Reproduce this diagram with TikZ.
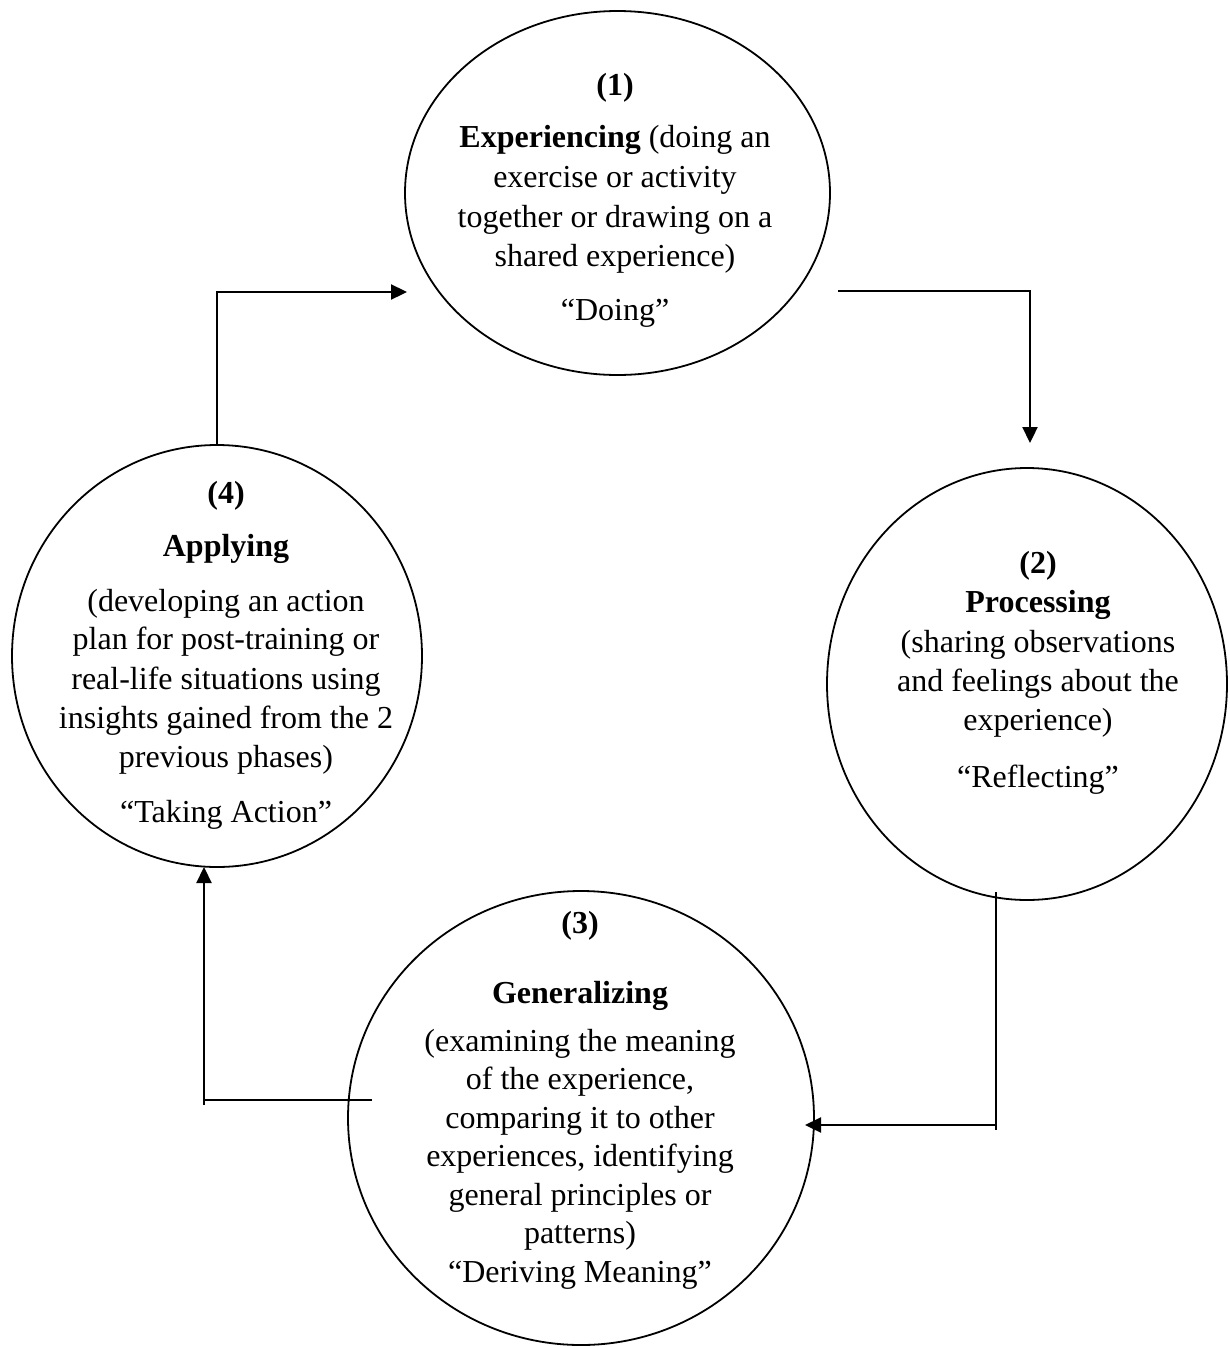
\documentclass[tikz,border=0pt]{standalone}
\usepackage{fontspec}
\setmainfont{Liberation Serif}
\usetikzlibrary{shapes.geometric,arrows.meta}
\begin{document}
\begin{tikzpicture}[x=1pt,y=-1pt,
  phase/.style={ellipse,draw,line width=1.8pt,inner sep=0pt},
  phasetext/.style={align=center,inner sep=0pt,font=\fontsize{32}{38.5}\selectfont},
  conn/.style={line width=2.3pt},
  arr/.style={conn,-{Triangle[length=16pt,width=15pt]}}]
\useasboundingbox (0,0) rectangle (1230,1347);

% ellipses
\node[phase,minimum width=425pt,minimum height=364pt] (e1) at (617.5,193) {};
\node[phase,minimum width=400pt,minimum height=432pt] (e2) at (1027,684) {};
\node[phase,minimum width=466pt,minimum height=454pt] (e3) at (581,1118) {};
\node[phase,minimum width=410pt,minimum height=422pt] (e4) at (217,656) {};

% texts
\node[phasetext] (t1) at (615,200.7) {\textbf{(1)}\\[13.5pt]
  \textbf{Experiencing} (doing an\\[1.5pt]
  exercise or activity\\[1.5pt]
  together or drawing on a\\[0.5pt]
  shared experience)\\[15.5pt]
  “Doing”};
\node[phasetext] (t2) at (1038,673) {\textbf{(2)}\\[0.5pt]
  \textbf{Processing}\\[1.5pt]
  (sharing observations\\[0.5pt]
  and feelings about the\\[0.5pt]
  experience)\\[18.5pt]
  “Reflecting”};
\node[phasetext] (t3) at (580,1100) {\textbf{(3)}\\[31.5pt]
  \textbf{Generalizing}\\[9.5pt]
  (examining the meaning\\
  of the experience,\\
  comparing it to other\\
  experiences, identifying\\
  general principles or\\
  patterns)\\
  “Deriving Meaning”};
\node[phasetext] (t4) at (226,655) {\textbf{(4)}\\[14.5pt]
  \textbf{Applying}\\[16.5pt]
  (developing an action\\
  plan for post-training or\\[1.5pt]
  real-life situations using\\[0.5pt]
  insights gained from the 2\\
  previous phases)\\[16.5pt]
  “Taking Action”};

% connector end points
\coordinate (a2) at (407,292);
\coordinate (b1) at (838,291);
\coordinate (b2) at (1030,443);
\coordinate (c1) at (996,892);
\coordinate (c2) at (996,1130);
\coordinate (c3) at (805,1125);
\coordinate (d1) at (372,1100);
\coordinate (d2) at (204,1100);
\coordinate (d3) at (204,867);

% connectors
\draw[arr] (e4.north) |- (a2);
\draw[arr] (b1) -| (b2);
\draw[arr] (c1) -- (c2) ++(0,-5) -- (c3);
\draw[arr] (d1) -- (d2) ++(0,5) -- (d3);
\end{tikzpicture}
\end{document}
